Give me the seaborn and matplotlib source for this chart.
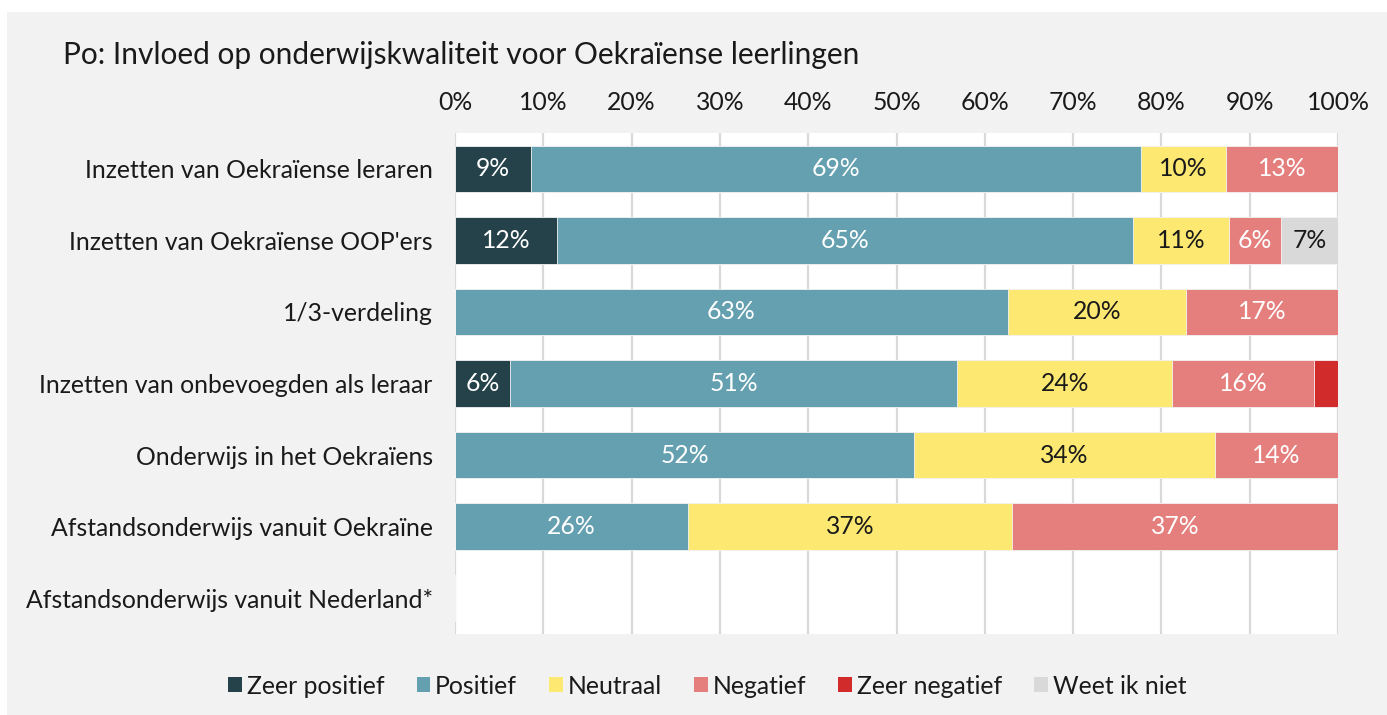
import numpy as np
import pandas as pd
import seaborn as sns
from matplotlib import pyplot as plt
from matplotlib.patches import Patch, Rectangle

categories = [
    "Inzetten van Oekraïense leraren",
    "Inzetten van Oekraïense OOP'ers",
    "1/3-verdeling",
    "Inzetten van onbevoegden als leraar",
    "Onderwijs in het Oekraïens",
    "Afstandsonderwijs vanuit Oekraïne",
    "Afstandsonderwijs vanuit Nederland*",
]
zeer_positief = [8.6, 11.6, 0, 6.2, 0, 0, 0]
positief = [69.1, 65.2, 62.6, 50.7, 52.0, 26.4, 0]
neutraal = [9.6, 10.9, 20.2, 24.3, 34.1, 36.7, 0]
negatief = [12.7, 5.8, 17.2, 16.1, 13.9, 36.9, 0]
zeer_negatief = [0, 0, 0, 2.7, 0, 0, 0]
weet_ik_niet = [0, 6.6, 0, 0, 0, 0, 0]

series = ["Zeer positief", "Positief", "Neutraal", "Negatief", "Zeer negatief", "Weet ik niet"]
colors = ["#25424a", "#64a0b0", "#fde972", "#e47f7d", "#d22b2b", "#d9d9d9"]
text_colors = ["white", "white", "#1a1a1a", "white", "white", "#1a1a1a"]

df = pd.DataFrame({
    "categorie": categories,
    "Zeer positief": zeer_positief,
    "Positief": positief,
    "Neutraal": neutraal,
    "Negatief": negatief,
    "Zeer negatief": zeer_negatief,
    "Weet ik niet": weet_ik_niet,
})
cum = df[series].cumsum(axis=1)

sns.set_theme(style="white")
plt.rcParams["font.family"] = ["Lato", "DejaVu Sans"]

FS = 17.8

fig = plt.figure(figsize=(13.87, 7.15), dpi=100)
fig.patch.set_facecolor("white")
fig.patches.append(Rectangle((7 / 1387, 0), 1 - 7 / 1387, (715 - 12) / 715,
                             transform=fig.transFigure, facecolor="#f2f2f2",
                             edgecolor="none", zorder=-10))
ax = fig.add_axes([455 / 1387, 1 - 634 / 715, (1338 - 455) / 1387, (634 - 133) / 715])
ax.set_facecolor("white")

# stacked bars: draw cumulative totals from the back to the front
for i in reversed(range(len(series))):
    sns.barplot(data=pd.DataFrame({"categorie": categories, "v": cum[series[i]]}),
                x="v", y="categorie", order=categories, orient="y",
                color=colors[i], width=0.65, saturation=1,
                edgecolor="#f4f4f4", linewidth=0.6, ax=ax, zorder=2)

# value labels
for r in range(len(categories)):
    left = 0
    for i, s in enumerate(series):
        v = df.loc[r, s]
        if v >= 4:
            ax.text(left + v / 2, r, f"{v:.0f}%", ha="center", va="center",
                    color=text_colors[i], fontsize=FS, zorder=5)
        left += v

ax.set_xlim(0, 100)
ax.set_ylim(len(categories) - 0.5, -0.5)
ax.set_xticks(np.arange(0, 101, 10))
ax.set_xticklabels([f"{t}%" for t in range(0, 101, 10)])
ax.xaxis.tick_top()
ax.tick_params(axis="x", length=0, pad=14, labelsize=FS, labelcolor="#1a1a1a")
ax.tick_params(axis="y", length=0, pad=16, labelsize=FS, labelcolor="#1a1a1a")
ax.set_xlabel("")
ax.set_ylabel("")
ax.grid(axis="x", color="#d9d9d9", linewidth=1.6, zorder=0)
ax.grid(axis="y", visible=False)
ax.set_axisbelow(True)
for sp in ax.spines.values():
    sp.set_visible(False)

fig.text(63 / 1387, 1 - 55 / 715, "Po: Invloed op onderwijskwaliteit voor Oekraïense leerlingen",
         ha="left", va="center", fontsize=21.5, color="#1a1a1a")

handles = [Patch(facecolor=c, edgecolor="none", label=s) for s, c in zip(series, colors)]
fig.legend(handles=handles, loc="center", bbox_to_anchor=(0.51, 1 - 686 / 715), ncol=6,
           frameon=False, fontsize=FS, handlelength=0.55, handleheight=0.55,
           handletextpad=0.2, columnspacing=1.3, labelcolor="#1a1a1a")

fig.savefig("out.png", dpi=100, facecolor=fig.get_facecolor())
